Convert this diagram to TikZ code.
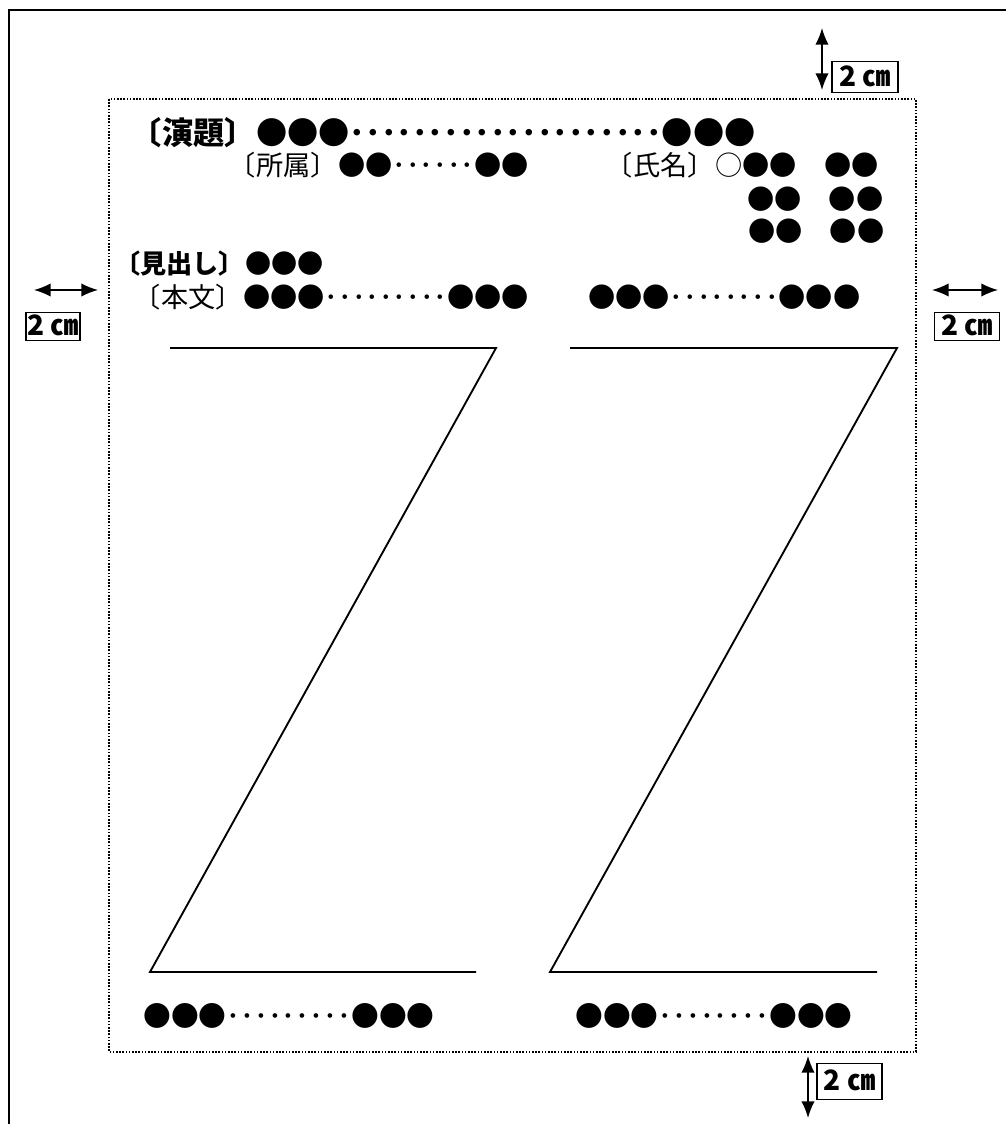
\documentclass[tikz,border=0pt]{standalone}
\usepackage{fontspec}
\newfontfamily\jp{Noto Sans CJK JP}
\usetikzlibrary{arrows.meta}
\newcommand\emsz[1]{\fontsize{#1}{#1}\selectfont}
\begin{document}
\begin{tikzpicture}[x=0.75pt,y=-0.75pt,
  frameline/.style={line width=1.5pt},
  arealine/.style={line width=0.9pt, dash pattern=on 1.2pt off 1.2pt},
  zline/.style={line width=1.4pt},
  txt/.style={inner sep=0pt, anchor=base west},
  lbl/.style={inner sep=0pt, anchor=base east},
  bigb/.style={font=\jp\bfseries\emsz{23.4pt}},
  midb/.style={font=\jp\bfseries\emsz{19.6pt}},
  midr/.style={font=\jp\emsz{20.4pt}},
  botr/.style={font=\jp\emsz{20.8pt}},
  dimarrow/.style={line width=1.1pt, {Latex[length=12.5pt,width=10pt]}-{Latex[length=12.5pt,width=10pt]}},
  cmbox/.style={draw, line width=1.2pt, inner xsep=0.5pt, inner ysep=0pt,
    text height=15pt, text depth=1.5pt, font=\jp\bfseries\emsz{21pt}}
]
\useasboundingbox (0,0) rectangle (1006,1124);
% outer sheet
\draw[frameline] (9,1124) -- (9,10) -- (1006,10);
% text area
\draw[arealine] (109,99) rectangle (916,1052);

% title row
\node[txt,bigb] (r1c) at (256,144) {●●●････････････････････●●●};
\node[lbl,bigb] (r1l) at (r1c.base west) {〔演題〕};
% affiliation / name
\node[txt,midr] (r2c) at (338,175.3) {●●･･････●●};
\node[lbl,midr] (r2l) at (r2c.base west) {〔所属〕};
\node[txt,midr] (r2n) at (715,175.3) {○●●　●●};
\node[lbl,midr] (r2nl) at (r2n.base west) {〔氏名〕};
\node[txt,midr] (r3n) at (747,209.3) {●●　●●};
\node[txt,midr] (r4n) at (748,241.3) {●●　●●};
% heading
\node[txt,midb] (r5c) at (245,273.9) {●●●};
\node[lbl,midb] (r5l) at (r5c.base west) {〔見出し〕};
% body
\node[txt,midr] (r6c) at (243,307.3) {●●●･････････●●●};
\node[lbl,midr] (r6l) at (r6c.base west) {〔本文〕};
\node[txt,midr] (r6r) at (588,307.3) {●●●････････●●●};

% Z columns
\draw[zline] (170,348) -- (496,348) -- (150,972) -- (476,972);
\draw[zline] (570,348) -- (897,348) -- (550,972) -- (877,972);

% bottom rows
\node[txt,botr] (b1) at (143,1026.5) {●●●･････････●●●};
\node[txt,botr] (b2) at (575,1026.5) {●●●････････●●●};

% margin marks
\coordinate (tA) at (822,28);
\coordinate (tB) at (822,90);
\draw[dimarrow] (tA) -- (tB);
\node[cmbox, minimum width=49.5pt, minimum height=23pt] (tbox) at (865,77) {2 ㎝};

\coordinate (lA) at (34,290);
\coordinate (lB) at (98,290);
\draw[dimarrow] (lA) -- (lB);
\node[cmbox, minimum width=40.5pt, minimum height=21pt] (lbox) at (53,326.5) {2 ㎝};

\coordinate (rA) at (932,290);
\coordinate (rB) at (998,290);
\draw[dimarrow] (rA) -- (rB);
\node[cmbox, minimum width=48.5pt, minimum height=21pt] (rbox) at (967,326.5) {2 ㎝};

\coordinate (bA) at (808,1056);
\coordinate (bB) at (808,1118);
\draw[dimarrow] (bA) -- (bB);
\node[cmbox, minimum width=49pt, minimum height=27pt] (bbox) at (849.5,1081.5) {2 ㎝};
\end{tikzpicture}
\end{document}
